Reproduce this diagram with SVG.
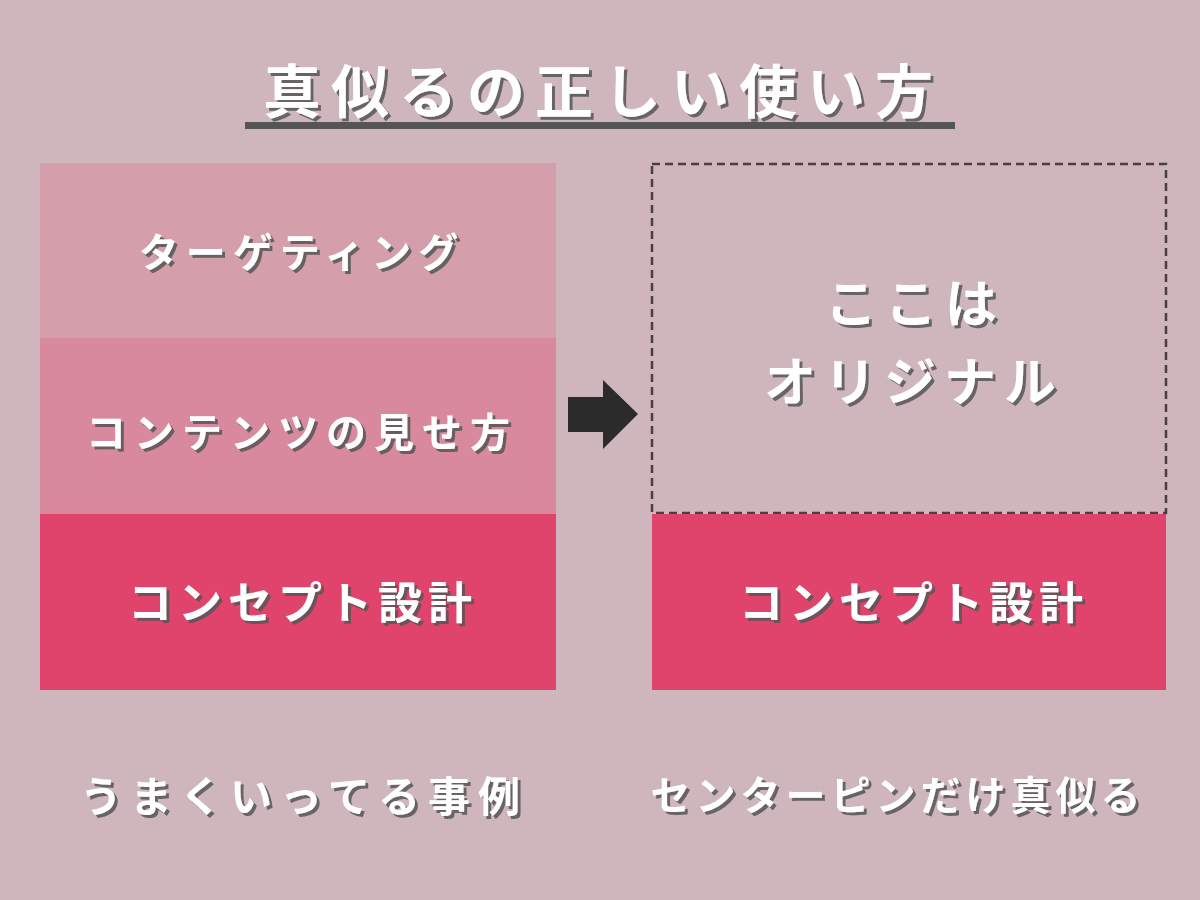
<svg xmlns="http://www.w3.org/2000/svg" width="1200" height="900" viewBox="0 0 1200 900">
<defs>
<filter id="sh" x="-10%" y="-20%" width="120%" height="150%"><feDropShadow dx="3" dy="3" stdDeviation="0.5" flood-color="#555" flood-opacity="0.85"/></filter>
</defs>
<style>
text{font-family:"Noto Sans CJK JP",sans-serif;font-weight:bold;fill:#fff;text-anchor:middle;filter:url(#sh)}
</style>
<rect width="1200" height="900" fill="#cfb6bd"/>
<g id="title">
<text x="603" y="113" font-size="58" letter-spacing="10">真似るの正しい使い方</text>
<rect x="245" y="122" width="710" height="7" fill="#555"/>
</g>
<g id="left">
<rect x="40" y="163" width="516" height="176" fill="#d49fab"/>
<text x="302" y="267" font-size="40" letter-spacing="7">ターゲティング</text>
<rect x="40" y="338" width="516" height="177" fill="#d8899d"/>
<text x="302" y="447" font-size="40" letter-spacing="8">コンテンツの見せ方</text>
<rect x="40" y="514" width="516" height="176" fill="#e0436b"/>
<text x="303" y="619" font-size="44" letter-spacing="6">コンセプト設計</text>
</g>
<g id="connectors">
<polygon points="568,397 603,397 603,380 638,414 603,449 603,432 568,432" fill="#2b2b2b"/>
</g>
<g id="right">
<rect x="652" y="164" width="514" height="349" fill="none" stroke="#4a3f40" stroke-width="2.5" stroke-dasharray="8,5"/>
<text x="915" y="323" font-size="52" letter-spacing="8">ここは</text>
<text x="914" y="401" font-size="52" letter-spacing="8">オリジナル</text>
<rect x="652" y="514" width="514" height="176" fill="#e0436b"/>
<text x="914" y="619" font-size="44" letter-spacing="6">コンセプト設計</text>
</g>
<g id="labels">
<text x="304" y="812" font-size="42" letter-spacing="8">うまくいってる事例</text>
<text x="898" y="810" font-size="40" letter-spacing="5">センターピンだけ真似る</text>
</g>
</svg>
